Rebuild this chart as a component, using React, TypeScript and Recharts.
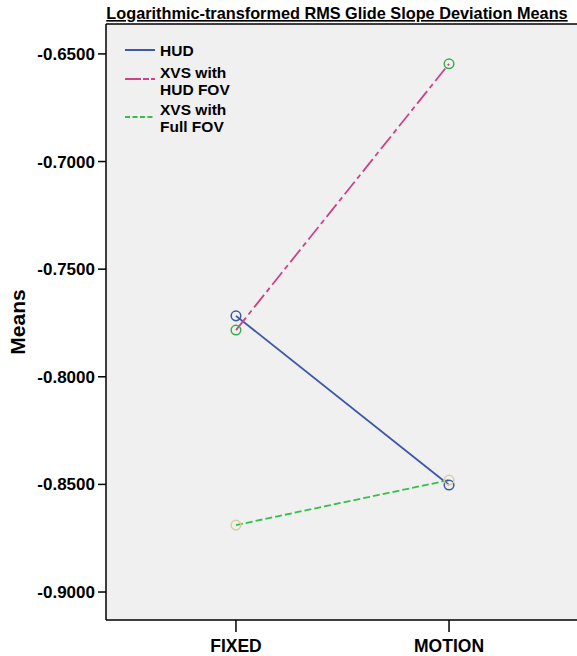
import React from "react";
import {
  LineChart,
  Line,
  XAxis,
  YAxis,
  CartesianGrid,
  ReferenceLine,
} from "recharts";

const categories = ["FIXED", "MOTION"];
const seriesNames = ["HUD", "XVS with HUD FOV", "XVS with Full FOV"];
const legendLines = [["HUD"], ["XVS with", "HUD FOV"], ["XVS with", "Full FOV"]];
const hudMeans = [-0.7717, -0.8503];
const xvsHudFovMeans = [-0.7783, -0.6546];
const xvsFullFovMeans = [-0.8689, -0.848];
const yTicks = [-0.9, -0.85, -0.8, -0.75, -0.7, -0.65];
const yDomain = [-0.913, -0.6361];
const xDomain = [0.39, 2.61];

const lineColors = ["#3F57A8", "#C8448A", "#35C04A"];
const markerColors = ["#3F57A8", "#35B04A", "#D6CE9C"];
const dashes = ["", "16 4 5 4", "7 3"];
const keys = ["hud", "hudFov", "fullFov"];

const data = categories.map((c, i) => ({
  x: i + 1,
  cat: c,
  hud: hudMeans[i],
  hudFov: xvsHudFovMeans[i],
  fullFov: xvsFullFovMeans[i],
}));

const FONT = "'Liberation Sans', Arial, Helvetica, sans-serif";

const makeDot = (color: string) => (props: any) => {
  const { cx, cy, index } = props;
  if (cx == null || cy == null) return <g key={index} />;
  return (
    <circle
      key={index}
      cx={cx}
      cy={cy}
      r={4.8}
      fill="none"
      stroke={color}
      strokeWidth={1.5}
    />
  );
};

const LegendBox = () => {
  const ys = [50, 79, 117];
  const baselines = [56, 78, 115];
  return (
    <g>
      {seriesNames.map((name, i) => (
        <g key={name}>
          <line
            x1={125}
            x2={155}
            y1={ys[i]}
            y2={ys[i]}
            stroke={lineColors[i]}
            strokeWidth={2}
            strokeDasharray={i === 1 ? "16 2 6 2" : i === 2 ? "5 2.5" : undefined}
          />
          <text fontFamily={FONT} fontWeight="bold" fontSize={15.5} fill="#000">
            {legendLines[i].map((ln, j) => (
              <tspan key={j} x={160} y={baselines[i] + j * 17}>
                {ln}
              </tspan>
            ))}
          </text>
        </g>
      ))}
    </g>
  );
};

export default function App() {
  return (
    <div
      style={{
        position: "absolute",
        left: 0,
        top: 0,
        width: 577,
        height: 656,
        overflow: "hidden",
        background: "#fff",
      }}
    >
      <LineChart
        width={600}
        height={656}
        data={data}
        margin={{ top: 24, right: 21, bottom: 0, left: 0 }}
      >
        <CartesianGrid
          horizontal={false}
          vertical={false}
          fill="#F0F0F0"
          stroke="none"
        />
        <XAxis
          dataKey="x"
          type="number"
          domain={xDomain}
          ticks={[1, 2]}
          tickFormatter={(v: number) => categories[v - 1]}
          height={36}
          tickSize={12}
          tickMargin={8}
          axisLine={{ stroke: "#000", strokeWidth: 1.5 }}
          tickLine={{ stroke: "#000", strokeWidth: 1.5 }}
          tick={{ fill: "#000", fontSize: 17.5, fontWeight: "bold", fontFamily: FONT }}
          allowDataOverflow
        />
        <YAxis
          type="number"
          domain={yDomain}
          ticks={yTicks}
          tickFormatter={(v: number) => v.toFixed(4)}
          width={106}
          tickSize={8}
          tickMargin={3}
          axisLine={{ stroke: "#000", strokeWidth: 1.5 }}
          tickLine={{ stroke: "#000", strokeWidth: 1.5 }}
          tick={{ fill: "#000", fontSize: 17, fontWeight: "bold", fontFamily: FONT }}
          allowDataOverflow
        />
        <ReferenceLine y={yDomain[1]} stroke="#000" strokeWidth={1.5} />
        {keys.map((k, i) => (
          <Line
            key={k}
            dataKey={k}
            name={seriesNames[i]}
            type="linear"
            stroke={lineColors[i]}
            strokeWidth={1.8}
            strokeDasharray={dashes[i] || undefined}
            dot={makeDot(markerColors[i])}
            activeDot={false}
            isAnimationActive={false}
          />
        ))}
      </LineChart>
      <svg
        width={577}
        height={656}
        style={{ position: "absolute", left: 0, top: 0, pointerEvents: "none" }}
      >
        <LegendBox />
        <text
          x={337}
          y={19}
          textAnchor="middle"
          fontFamily={FONT}
          fontWeight="bold"
          fontSize={16.3}
          textDecoration="underline"
          fill="#000"
        >
          Logarithmic-transformed RMS Glide Slope Deviation Means
        </text>
        <text
          x={25}
          y={322}
          transform="rotate(-90 25 322)"
          textAnchor="middle"
          fontFamily={FONT}
          fontWeight="bold"
          fontSize={21}
          fill="#000"
        >
          Means
        </text>
      </svg>
    </div>
  );
}
